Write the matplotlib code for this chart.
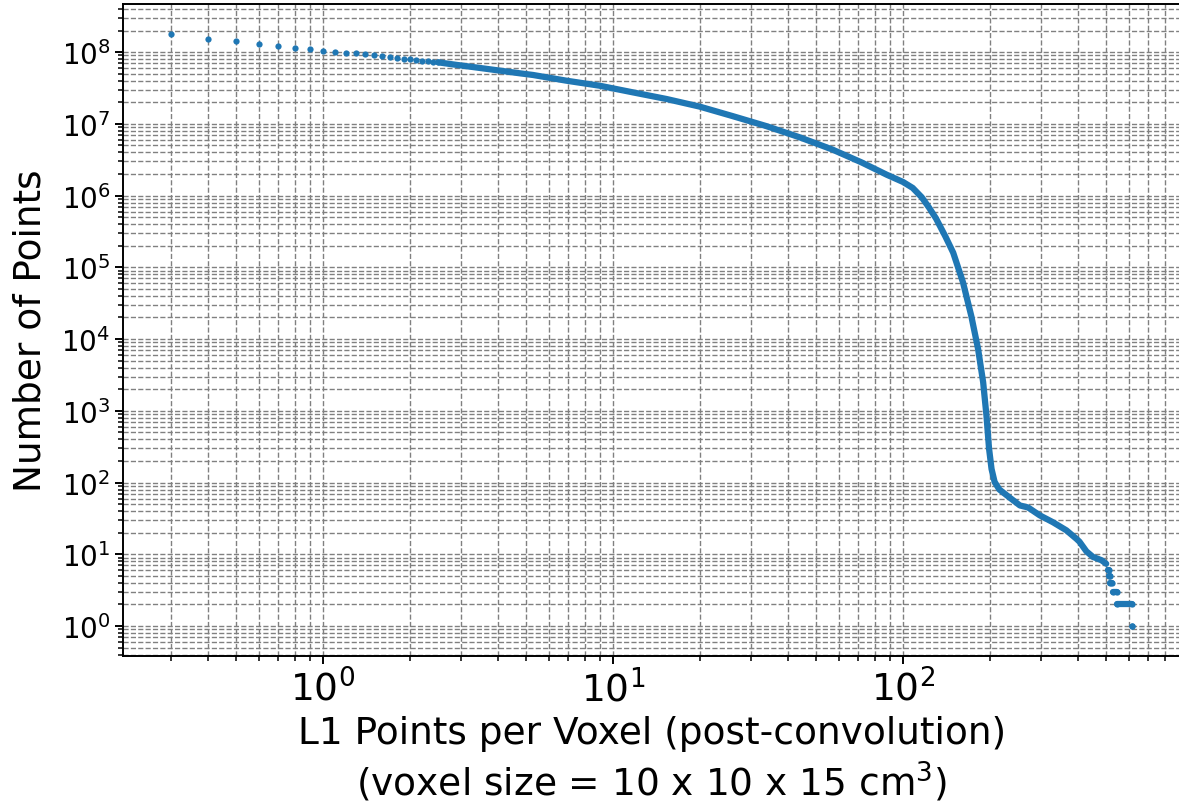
import matplotlib; matplotlib.use("Agg")
import matplotlib.pyplot as plt

# low thresholds: individual points (x = points per voxel, y = number of points)
x_dots = [0.3, 0.4, 0.5, 0.6, 0.7, 0.8, 0.9, 1.0, 1.1, 1.2, 1.3, 1.4,
          1.5, 1.6, 1.7, 1.8, 1.9, 2.0, 2.1, 2.2, 2.3, 2.4, 2.5]
y_dots = [1.81e8, 1.54e8, 1.41e8, 1.30e8, 1.22e8, 1.15e8, 1.09e8, 1.05e8,
          1.01e8, 9.8e7, 9.6e7, 9.3e7, 9.0e7, 8.7e7, 8.5e7, 8.3e7, 8.1e7,
          7.9e7, 7.68e7, 7.6e7, 7.43e7, 7.36e7, 7.2e7]

# dense part (points overlap into a thick band)
x_curve = [2.5, 2.8, 3.6, 4.1, 4.8, 5.3, 6.9, 9.0, 11.7, 15.3, 19.9, 25.9,
           33.8, 44, 57, 72, 88, 100, 108, 116, 123, 130, 140, 149, 161, 172,
           181.5, 189, 194, 198, 202, 207, 215, 233, 253, 270, 296, 329,
           366, 396, 406, 429, 452, 483, 502]
y_curve = [7.2e7, 6.75e7, 5.9e7, 5.5e7, 5.05e7, 4.8e7, 4.0e7, 3.4e7, 2.75e7,
           2.22e7, 1.74e7, 1.28e7, 9.3e6, 6.5e6, 4.4e6, 2.9e6, 1.95e6, 1.55e6,
           1.28e6, 9.5e5, 6.8e5, 4.8e5, 2.7e5, 1.6e5, 6.2e4, 2.1e4, 7.3e3,
           2.5e3, 860, 300, 155, 102, 80, 62, 48, 45, 35, 28, 21.6, 16.5, 15,
           11, 9.2, 8.3, 7.4]

# integer plateaus at the far tail
tail_count = [6, 5, 4, 3, 2, 1]
tail_from = [510, 514, 518, 530, 547, 616]
tail_to = [513, 517, 527, 548, 614, 616]

C = "#1f77b4"
LW = 4.5

fig = plt.figure(figsize=(11.79, 8.04), dpi=100)
ax = fig.add_axes([123.3/1179, 147.3/804, 1056.7/1179, 651.7/804])

ax.plot(x_dots, y_dots, "o", ms=4.5, color=C, mec="none")
ax.plot(x_curve, y_curve, "-", lw=LW, color=C,
        solid_capstyle="round", solid_joinstyle="round")
for c, a, b in zip(tail_count, tail_from, tail_to):
    ax.plot([a, b], [c, c], "-o", lw=LW, ms=LW, color=C, mec="none",
            solid_capstyle="round")

ax.set_xscale("log"); ax.set_yscale("log")
ax.grid(True, which="both", ls="--", color="gray", lw=1.0)
ax.set_axisbelow(True)

for s in ax.spines.values(): s.set_linewidth(1.4)
ax.tick_params(which="major", length=5.8, width=1.4)
ax.tick_params(which="minor", length=3.6, width=1.1)
ax.tick_params(axis="x", labelsize=27)
ax.tick_params(axis="y", labelsize=20)

ax.set_xlabel("L1 Points per Voxel (post-convolution)\n(voxel size = 10 x 10 x 15 cm$^3$)",
              fontsize=27, labelpad=5)
ax.set_ylabel("Number of Points", fontsize=27, labelpad=9)

fig.savefig("out.png", dpi=100)
